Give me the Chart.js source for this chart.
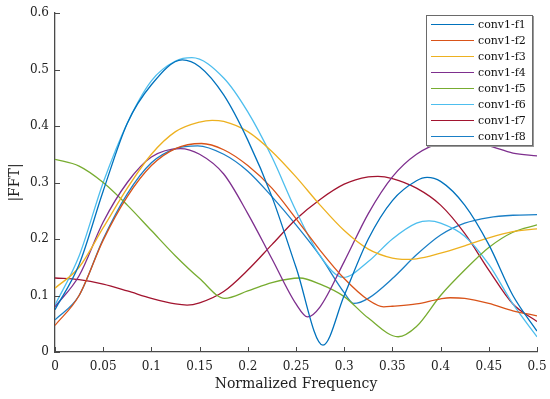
<!DOCTYPE html>
<html>
<head>
<meta charset="utf-8">
<script src="https://cdn.jsdelivr.net/npm/chart.js@4.4.1/dist/chart.umd.min.js"></script>
<style>
  html, body { margin: 0; padding: 0; background: #fff; }
  #wrap { position: relative; width: 550px; height: 399px; }
  #legend { position: absolute; left: 426px; top: 15px; width: 105px; height: 129px;
    background: #fff; border: 1px solid #6a6a6a; box-shadow: 1px 1px 0 #999; font-family: "DejaVu Serif", serif; font-size: 11px; color: #111; }
  .item { position: absolute; left: 0; height: 16px; width: 105px; }
  .swatch { position: absolute; left: 4px; top: 7px; width: 43px; height: 0; border-top: 1.4px solid; }
  .label { position: absolute; left: 51px; top: 0; line-height: 16px; }
</style>
</head>
<body>
<div id="wrap">
  <canvas id="c" width="550" height="399"></canvas>
  <div id="legend"></div>
</div>
<script>
// ---- data ----
const freq = [0, 0.025, 0.05, 0.075, 0.1, 0.125, 0.15, 0.175, 0.2, 0.225, 0.25,
              0.275, 0.3, 0.325, 0.35, 0.375, 0.4, 0.425, 0.45, 0.475, 0.5];
const seriesNames = ['conv1-f1','conv1-f2','conv1-f3','conv1-f4','conv1-f5','conv1-f6','conv1-f7','conv1-f8'];
const seriesColors = ['#0072BD','#D95319','#EDB120','#7E2F8E','#77AC30','#4DBEEE','#A2142F','#1A7FC6'];

const f1 = [0.075, 0.155, 0.285, 0.405, 0.473, 0.512, 0.505, 0.455, 0.375, 0.275, 0.15,
            0.03, 0.10, 0.20, 0.268, 0.303, 0.302, 0.26, 0.19, 0.10, 0.037];
const f1Extra = [[0.132, 0.517], [0.278, 0.012], [0.386, 0.309]];

const f2 = [0.047, 0.10, 0.198, 0.275, 0.33, 0.36, 0.369, 0.358, 0.33, 0.29, 0.236,
            0.18, 0.13, 0.092, 0.081, 0.085, 0.094, 0.095, 0.086, 0.073, 0.064];
const f2Extra = [[0.152, 0.369], [0.341, 0.080], [0.41, 0.096]];

const f3 = [0.113, 0.15, 0.22, 0.29, 0.35, 0.39, 0.407, 0.408, 0.39, 0.355, 0.31,
            0.26, 0.215, 0.182, 0.166, 0.165, 0.175, 0.188, 0.202, 0.213, 0.218];
const f3Extra = [[0.163, 0.410], [0.36, 0.164]];

const f4 = [0.08, 0.135, 0.23, 0.30, 0.345, 0.359, 0.35, 0.315, 0.245, 0.165, 0.085,
            0.08, 0.16, 0.245, 0.31, 0.35, 0.37, 0.374, 0.365, 0.352, 0.347];
const f4Extra = [[0.13, 0.360], [0.262, 0.062], [0.42, 0.375]];

const f5 = [0.341, 0.329, 0.30, 0.26, 0.215, 0.17, 0.13, 0.097, 0.108, 0.123, 0.13,
            0.12, 0.098, 0.06, 0.03, 0.045, 0.10, 0.145, 0.185, 0.212, 0.225];
const f5Extra = [[0.176, 0.095], [0.254, 0.131], [0.356, 0.027]];

const f6 = [0.083, 0.17, 0.30, 0.405, 0.48, 0.515, 0.518, 0.485, 0.425, 0.345, 0.25,
            0.17, 0.133, 0.16, 0.20, 0.228, 0.228, 0.205, 0.155, 0.085, 0.027];
const f6Extra = [[0.142, 0.521], [0.299, 0.132], [0.388, 0.232]];

const f7 = [0.131, 0.128, 0.12, 0.108, 0.095, 0.085, 0.087, 0.107, 0.145, 0.19, 0.235,
            0.27, 0.297, 0.31, 0.307, 0.29, 0.26, 0.21, 0.145, 0.085, 0.054];
const f7Extra = [[0.137, 0.083], [0.335, 0.311]];

const f8 = [0.057, 0.10, 0.20, 0.28, 0.335, 0.36, 0.364, 0.35, 0.32, 0.275, 0.225,
            0.17, 0.105, 0.095, 0.13, 0.172, 0.207, 0.228, 0.238, 0.242, 0.243];
const f8Extra = [[0.148, 0.365], [0.31, 0.086]];

const xTickLabels = ['0','0.05','0.1','0.15','0.2','0.25','0.3','0.35','0.4','0.45','0.5'];
const yTickLabels = ['0','0.1','0.2','0.3','0.4','0.5','0.6'];
const xTitle = 'Normalized Frequency';
const yTitle = '|FFT|';

// ---- build ----
function toPoints(vals, extra) {
  let pts = freq.map((x, i) => ({ x: x, y: vals[i], grid: true }));
  extra.forEach(([x, y]) => {
    pts = pts.filter(p => !(p.grid && Math.abs(p.x - x) < 0.0085));
    pts.push({ x: x, y: y, grid: false });
  });
  pts.sort((a, b) => a.x - b.x);
  return pts.map(p => ({ x: p.x, y: p.y }));
}
const allVals = [f1, f2, f3, f4, f5, f6, f7, f8];
const allExtra = [f1Extra, f2Extra, f3Extra, f4Extra, f5Extra, f6Extra, f7Extra, f8Extra];

const datasets = seriesNames.map((name, k) => ({
  label: name,
  data: toPoints(allVals[k], allExtra[k]),
  borderColor: seriesColors[k],
  borderWidth: 1.3,
  pointRadius: 0,
  fill: false,
  cubicInterpolationMode: 'monotone'
}));

const axisColor = '#4a4a4a';
const inwardTicks = {
  id: 'inwardTicks',
  afterDraw(chart) {
    const ctx = chart.ctx, xs = chart.scales.x, ys = chart.scales.y;
    const a = chart.chartArea;
    ctx.save();
    ctx.strokeStyle = axisColor;
    ctx.lineWidth = 1;
    xs.ticks.forEach(t => {
      const px = Math.round(xs.getPixelForValue(t.value)) + 0.5;
      ctx.beginPath(); ctx.moveTo(px, a.bottom); ctx.lineTo(px, a.bottom - 5); ctx.stroke();
    });
    ys.ticks.forEach(t => {
      const py = Math.round(ys.getPixelForValue(t.value)) + 0.5;
      ctx.beginPath(); ctx.moveTo(a.left, py); ctx.lineTo(a.left + 5, py); ctx.stroke();
    });
    ctx.restore();
  }
};

const tickFont = { family: 'DejaVu Serif', size: 12 };
new Chart(document.getElementById('c'), {
  type: 'line',
  data: { datasets: datasets },
  options: {
    responsive: false,
    animation: false,
    events: [],
    layout: { padding: { top: 13, right: 13, left: 0, bottom: 0 } },
    plugins: { legend: { display: false }, tooltip: { enabled: false } },
    scales: {
      x: {
        type: 'linear', min: 0, max: 0.5,
        afterFit(s) { s.height = 47; s.paddingLeft = 0; s.paddingRight = 0; },
        grid: { display: true, drawOnChartArea: false, drawTicks: false },
        border: { display: true, color: axisColor, width: 1.3 },
        ticks: { stepSize: 0.05, padding: 8, color: '#222', font: tickFont, maxRotation: 0,
                 callback: (v, i) => xTickLabels[i] },
        title: { display: true, text: xTitle, color: '#222', padding: { top: 0, bottom: 6 },
                 font: { family: 'DejaVu Serif', size: 14 } }
      },
      y: {
        type: 'linear', min: 0, max: 0.6,
        afterFit(s) { s.width = 55; s.paddingTop = 0; s.paddingBottom = 0; },
        grid: { display: true, drawOnChartArea: false, drawTicks: false },
        border: { display: true, color: axisColor, width: 1.3 },
        ticks: { stepSize: 0.1, padding: 6, color: '#222', font: tickFont,
                 callback: (v, i) => yTickLabels[i] },
        title: { display: true, text: yTitle, color: '#222', padding: { top: 7, bottom: 0 },
                 font: { family: 'DejaVu Serif', size: 14 } }
      }
    }
  },
  plugins: [inwardTicks]
});

// ---- legend ----
const lg = document.getElementById('legend');
seriesNames.forEach((name, k) => {
  const it = document.createElement('div');
  it.className = 'item';
  it.style.top = (1 + 16 * k) + 'px';
  const sw = document.createElement('div');
  sw.className = 'swatch';
  sw.style.borderTopColor = seriesColors[k];
  const lb = document.createElement('div');
  lb.className = 'label';
  lb.textContent = name;
  it.appendChild(sw); it.appendChild(lb);
  lg.appendChild(it);
});
</script>
</body>
</html>
